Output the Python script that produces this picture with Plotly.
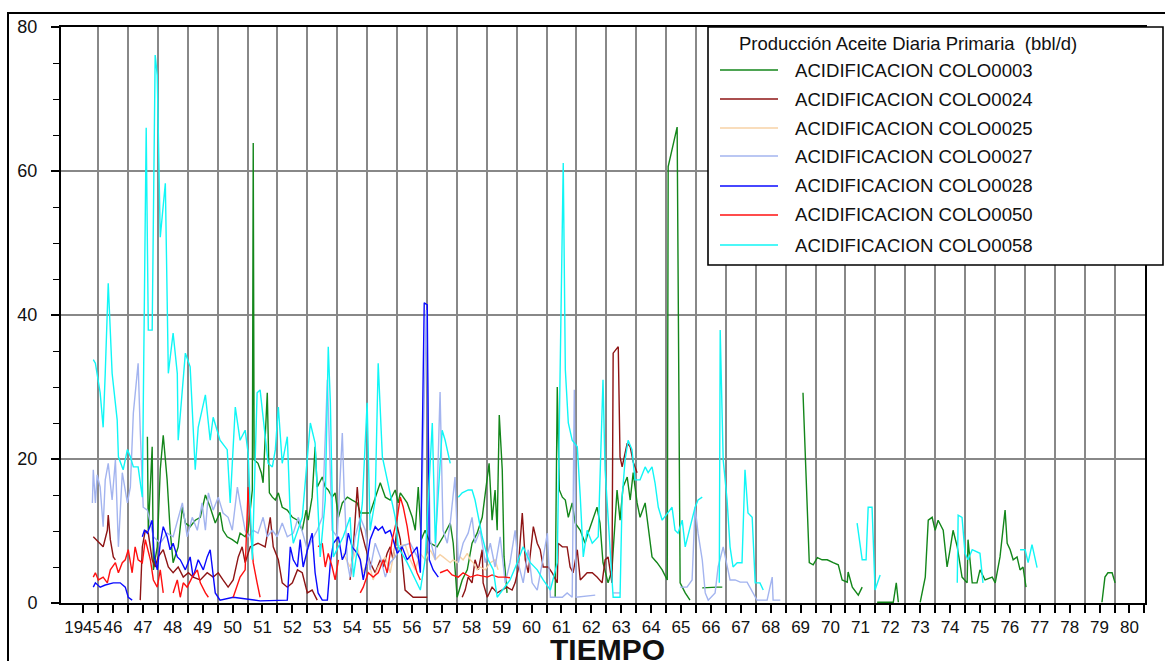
import plotly.graph_objects as go

# ---------------- data (decimal year, bbl/d) ; None = gap ----------------
years = list(range(1945, 1981))
year_labels = ["1945"] + [str(y)[2:] for y in years[1:]]
y_ticks = [0, 20, 40, 60, 80]

series_names = ["ACIDIFICACION COLO0003", "ACIDIFICACION COLO0024", "ACIDIFICACION COLO0025",
                "ACIDIFICACION COLO0027", "ACIDIFICACION COLO0028", "ACIDIFICACION COLO0050",
                "ACIDIFICACION COLO0058"]
series_colors = ["#13861a", "#8e1414", "#f7d2a6", "#a3b4ef", "#0a0aff", "#ff1010", "#10f6f6"]

colo0003 = [
    (1947.65, 23.1), (1947.68, 10.1), (1947.81, 21.7), (1947.85, 4.6), (1947.98, 7.8), (1948.08, 18.5),
    (1948.18, 23.3), (1948.31, 17.1), (1948.41, 10.1), (1948.51, 5.6), (1948.68, 7.8), (1948.82, 13.3),
    (1948.92, 11.1), (1949.08, 10.6), (1949.25, 11.5), (1949.42, 11.9), (1949.59, 15.0), (1949.75, 13.3),
    (1949.92, 11.1), (1950.08, 12.6), (1950.18, 10.1), (1950.32, 9.2), (1950.49, 8.8), (1950.66, 8.3),
    (1950.75, 9.7), (1950.92, 9.2), (1951.02, 10.1), (1951.16, 15.7), (1951.19, 63.9), (1951.22, 19.9),
    (1951.35, 19.4), (1951.46, 18.1), (1951.52, 16.7), (1951.66, 29.2), (1951.73, 15.3), (1951.83, 14.7),
    (1951.93, 14.3), (1952.03, 15.3), (1952.16, 13.3), (1952.33, 12.9), (1952.50, 11.9), (1952.67, 11.5),
    (1952.83, 10.1), (1952.96, 12.9), (1953.03, 11.5), (1953.16, 14.7), (1953.26, 21.7), (1953.33, 16.1),
    (1953.50, 17.5), (1953.60, 16.1), (1953.70, 15.7), (1953.83, 14.7), (1953.93, 15.3), (1954.04, 11.9),
    (1954.17, 13.9), (1954.34, 14.7), (1954.50, 14.3), (1954.67, 13.9), (1954.77, 12.5), (1955.10, 12.5),
    (1955.44, 16.7), (1955.61, 14.7), (1955.77, 14.3), (1955.94, 15.7), (1956.04, 13.9), (1956.11, 15.3),
    (1956.34, 13.9), (1956.51, 11.9), (1956.61, 10.1), (1956.71, 16.1), (1956.81, 8.8), (1956.94, 10.1),
    (1957.11, 8.3), (1957.34, 7.8), (1957.54, 9.2), (1957.78, 11.1), (1957.88, 8.3), (1958.01, 0.8),
    (1958.18, 3.2), (1958.35, 4.6), (1958.51, 8.3), (1958.68, 9.7), (1958.85, 11.9), (1959.02, 17.5),
    (1959.08, 19.4), (1959.18, 11.5), (1959.28, 15.7), (1959.35, 10.1), (1959.42, 26.1), (1959.52, 18.5),
    (1959.58, 6.4), (1959.68, 1.4), None,
    (1961.29, 0.8), (1961.36, 30.0), (1961.43, 15.7), (1961.53, 14.7), (1961.63, 14.3), (1961.73, 11.9),
    (1961.86, 13.9), (1961.96, 11.1), (1962.13, 10.1), (1962.29, 8.3), (1962.39, 9.7), (1962.56, 11.9),
    (1962.69, 13.3), (1962.79, 11.1), (1962.89, 5.6), (1963.06, 2.8), (1963.19, 4.6), (1963.36, 15.7),
    (1963.46, 11.5), (1963.56, 16.1), (1963.70, 17.5), (1963.80, 14.3), (1963.90, 18.1), (1964.03, 13.9),
    (1964.13, 11.9), (1964.30, 13.9), (1964.40, 10.6), (1964.53, 6.4), (1964.70, 5.6), (1964.87, 4.6),
    (1965.04, 3.2), (1965.07, 60.6), (1965.37, 66.1), (1965.47, 2.8), (1965.64, 1.4), (1965.80, 0.4), None,
    (1966.21, 2.1), (1966.48, 2.2), (1966.71, 2.2), (1966.88, 2.2), None,
    (1969.58, 29.2), (1969.65, 20.3), (1969.72, 13.9), (1969.79, 5.6), (1969.92, 5.3), (1970.06, 6.3),
    (1970.22, 6.0), (1970.39, 6.0), (1970.59, 5.6), (1970.76, 5.3), (1970.89, 3.2), (1971.06, 2.9),
    (1971.09, 4.3), (1971.23, 2.2), (1971.43, 1.1), (1971.56, 2.2), None,
    (1972.06, 0.1), (1972.60, 0.1), (1972.70, 2.8), (1972.77, 0.1), None,
    (1973.50, 0.1), (1973.67, 3.6), (1973.77, 11.5), (1973.90, 11.9), (1974.00, 10.1), (1974.10, 11.5),
    (1974.27, 10.1), (1974.40, 5.0), (1974.50, 7.4), (1974.60, 10.1), (1974.74, 7.8), (1974.90, 3.6),
    (1975.07, 2.8), (1975.10, 8.8), (1975.24, 2.8), (1975.40, 2.8), (1975.50, 4.6), (1975.67, 3.2),
    (1975.91, 3.6), (1976.01, 2.8), (1976.17, 6.4), (1976.27, 10.1), (1976.34, 12.9), (1976.41, 8.3),
    (1976.51, 7.4), (1976.61, 6.0), (1976.74, 6.4), (1976.84, 4.6), (1976.94, 5.0), (1977.04, 2.2), None,
    (1979.58, 0.1), (1979.68, 3.6), (1979.78, 4.2), (1979.92, 4.2), (1980.02, 2.8),
]

colo0024 = [
    (1945.84, 9.2), (1945.94, 8.8), (1946.07, 8.3), (1946.17, 7.8), (1946.31, 10.1), (1946.34, 12.2),
    (1946.41, 8.8), (1946.51, 6.4), (1946.58, 6.0), None,
    (1947.41, 0.4), (1947.48, 7.8), (1947.58, 10.1), (1947.68, 9.7), (1947.81, 6.0), (1947.91, 5.0),
    (1948.01, 6.4), (1948.18, 7.4), (1948.35, 5.0), (1948.51, 4.2), (1948.68, 5.0), (1948.85, 3.6),
    (1949.02, 4.2), (1949.18, 3.6), (1949.42, 3.2), (1949.65, 4.2), (1949.85, 3.6), (1950.02, 4.2),
    (1950.18, 3.2), (1950.35, 2.2), (1950.52, 3.2), (1950.69, 6.4), (1950.82, 7.8), (1950.92, 5.6),
    (1951.09, 7.8), (1951.35, 8.3), (1951.59, 7.8), (1951.76, 11.9), (1951.86, 7.8), (1952.03, 6.0),
    (1952.16, 2.8), (1952.33, 2.2), (1952.50, 2.8), (1952.67, 4.6), (1952.83, 4.2), (1953.00, 1.4),
    (1953.16, 1.8), (1953.33, 0.4), None,
    (1954.43, 3.2), (1954.54, 7.8), (1954.67, 16.1), (1954.77, 10.6), (1954.94, 7.8), (1955.10, 5.6),
    (1955.27, 4.2), (1955.44, 6.0), (1955.54, 5.0), (1955.67, 6.9), (1955.77, 7.8), (1955.87, 6.0),
    (1956.01, 10.6), (1956.11, 8.8), (1956.27, 1.8), (1956.54, 0.8), (1957.01, 0.8), None,
    (1958.18, 0.8), (1958.28, 1.8), (1958.38, 3.6), (1958.51, 2.8), (1958.61, 6.0), (1958.72, 4.6),
    (1958.85, 7.4), (1958.88, 2.8), (1959.02, 0.8), (1959.18, 2.2), (1959.35, 1.4), (1959.68, 2.2),
    (1959.85, 1.8), (1959.95, 2.8), (1960.05, 4.6), (1960.19, 12.5), (1960.29, 6.0), (1960.39, 4.2),
    (1960.56, 10.6), (1960.69, 8.3), (1960.79, 7.4), (1960.89, 5.0), (1961.06, 5.0), (1961.19, 4.2),
    (1961.36, 2.8), (1961.39, 8.3), (1961.53, 7.8), (1961.69, 7.8), (1961.79, 5.0), (1961.89, 4.2),
    (1962.03, 7.4), (1962.13, 3.2), (1962.36, 4.2), (1962.53, 4.2), (1962.69, 3.6), (1962.86, 2.8),
    (1962.96, 6.0), (1963.06, 6.4), (1963.19, 2.8), (1963.23, 34.7), (1963.40, 35.6), (1963.46, 20.3),
    (1963.53, 18.9), (1963.70, 22.2), (1963.80, 21.7), (1963.90, 19.6), (1964.03, 18.1),
]

colo0025 = [
    (1954.20, 6.9), (1954.43, 5.0), (1954.67, 7.8), (1954.87, 4.2), (1955.04, 6.0), (1955.20, 3.2),
    (1955.37, 5.0), (1955.61, 6.4), (1955.77, 4.2), (1955.94, 7.8), (1956.27, 8.1), (1956.44, 6.0),
    (1956.61, 4.6), (1956.78, 6.9), (1956.94, 6.0), (1957.11, 7.4), (1957.28, 6.0), (1957.44, 6.7),
    (1957.54, 6.4), (1957.68, 6.0), (1957.78, 5.6), (1957.88, 6.0), (1958.01, 5.6), (1958.11, 6.4),
    (1958.21, 6.0), (1958.35, 6.9), (1958.45, 6.0), (1958.55, 5.6), (1958.68, 4.6), (1958.78, 5.0),
    (1958.95, 4.6), (1959.12, 5.6), (1959.28, 6.0), (1959.38, 4.6),
]

colo0027 = [
    (1945.81, 13.9), (1945.84, 18.5), (1945.91, 13.9), (1945.97, 17.8), (1946.07, 16.1), (1946.17, 10.6),
    (1946.24, 17.1), (1946.34, 19.4), (1946.47, 14.3), (1946.58, 19.9), (1946.68, 7.8), (1946.81, 18.1),
    (1946.98, 13.9), (1947.08, 16.1), (1947.18, 26.4), (1947.31, 32.8), (1947.34, 33.3), (1947.41, 24.0),
    (1947.51, 13.3), (1947.65, 12.9), (1947.85, 9.2), (1948.08, 8.3), (1948.31, 9.7), (1948.51, 9.2),
    (1948.82, 13.9), (1948.98, 9.2), (1949.15, 11.9), (1949.32, 10.1), (1949.48, 13.9), (1949.59, 10.1),
    (1949.69, 15.3), (1949.85, 12.9), (1950.02, 14.7), (1950.18, 12.5), (1950.35, 11.9), (1950.49, 10.1),
    (1950.66, 16.1), (1950.75, 13.9), (1950.92, 10.1), (1951.02, 9.2), (1951.19, 10.1), (1951.35, 9.7),
    (1951.52, 11.9), (1951.66, 9.2), (1951.83, 10.1), (1951.99, 9.2), (1952.16, 11.1), (1952.33, 9.2),
    (1952.53, 9.7), (1952.70, 11.9), (1952.83, 10.1), (1953.00, 7.4), (1953.16, 8.8), (1953.33, 10.1),
    (1953.50, 11.9), (1953.67, 31.0), (1953.83, 10.1), (1954.00, 9.2), (1954.17, 23.6), (1954.23, 15.7),
    (1954.34, 5.6), (1954.43, 3.6), (1954.60, 9.2), (1954.77, 11.9), (1954.94, 10.1), (1955.10, 4.6),
    (1955.27, 8.3), (1955.44, 6.4), (1955.61, 3.6), (1955.77, 5.6), (1955.94, 6.4), (1956.11, 7.8),
    (1956.44, 8.3), (1956.78, 5.6), (1956.98, 40.7), (1957.11, 8.8), (1957.28, 6.0), (1957.44, 29.3),
    (1957.54, 10.1), (1957.68, 8.3), (1957.78, 11.1), (1957.94, 17.5), (1958.05, 5.6), (1958.21, 8.3),
    (1958.38, 9.7), (1958.51, 11.9), (1958.61, 8.3), (1958.78, 10.1), (1958.95, 5.6), (1959.12, 8.3),
    (1959.28, 5.0), (1959.45, 9.2), (1959.62, 2.8), (1959.78, 5.6), (1959.95, 10.1), (1960.05, 5.6),
    (1960.22, 2.8), (1960.39, 7.4), (1960.52, 2.8), (1960.69, 1.8), (1960.86, 5.6), (1961.03, 9.7),
    (1961.13, 0.8), (1961.53, 0.8), (1961.69, 1.4), (1961.86, 0.8), (1961.93, 29.6), (1961.99, 0.8),
    (1962.63, 1.1), None,
    (1963.23, 1.4), (1963.46, 1.4), None,
    (1965.47, 2.2), (1965.70, 2.2), (1965.87, 3.2), (1965.97, 13.3), (1966.07, 9.7), (1966.21, 6.0),
    (1966.31, 1.4), (1966.41, 0.4), (1966.64, 1.4), (1966.74, 5.0), (1966.91, 7.8), (1967.04, 5.0),
    (1967.14, 3.2), (1967.31, 3.2), (1967.48, 2.9), (1967.71, 2.9), (1967.81, 2.2), (1967.91, 1.4),
    (1968.04, 0.4), (1968.38, 0.4), (1968.55, 3.6), (1968.58, 0.4), (1968.82, 0.4),
]

colo0028 = [
    (1945.84, 2.2), (1945.91, 2.8), (1946.07, 2.2), (1946.24, 2.5), (1946.51, 2.8), (1946.74, 2.8),
    (1946.91, 2.2), (1947.01, 0.8), (1947.14, 0.4), None,
    (1947.48, 9.2), (1947.55, 10.1), (1947.65, 9.7), (1947.81, 11.5), (1947.88, 6.4), (1947.98, 4.6),
    (1948.08, 8.3), (1948.18, 10.6), (1948.31, 9.2), (1948.41, 7.4), (1948.51, 8.3), (1948.65, 6.4),
    (1948.75, 6.0), (1948.92, 4.6), (1949.08, 6.4), (1949.18, 3.6), (1949.35, 6.0), (1949.52, 4.6),
    (1949.65, 6.4), (1949.75, 7.4), (1949.92, 1.4), (1950.08, 0.4), (1950.52, 0.8), (1951.42, 0.3),
    (1952.33, 0.4), (1952.43, 7.8), (1952.53, 6.0), (1952.67, 5.0), (1952.76, 8.8), (1952.86, 5.0),
    (1953.03, 7.8), (1953.16, 9.7), (1953.26, 4.2), (1953.36, 1.4), (1953.50, 0.4), (1953.67, 0.4),
    (1953.77, 5.6), (1953.87, 8.3), (1954.04, 9.2), (1954.17, 6.0), (1954.27, 6.9), (1954.37, 9.7),
    (1954.50, 7.8), (1954.67, 6.9), (1954.77, 6.0), (1954.87, 3.2), (1955.00, 6.0), (1955.10, 8.8),
    (1955.27, 10.6), (1955.37, 10.1), (1955.51, 10.6), (1955.61, 9.7), (1955.77, 10.1), (1955.87, 8.8),
    (1956.01, 6.9), (1956.17, 7.8), (1956.34, 6.0), (1956.51, 6.9), (1956.67, 7.8), (1956.78, 4.2),
    (1956.84, 22.2), (1956.91, 41.7), (1957.01, 41.4), (1957.08, 6.0), (1957.21, 4.6), (1957.38, 3.6),
]

colo0050 = [
    (1945.84, 3.6), (1945.91, 4.2), (1946.01, 3.2), (1946.17, 3.6), (1946.31, 2.8), (1946.41, 4.6),
    (1946.58, 5.6), (1946.68, 4.2), (1946.81, 5.6), (1946.91, 6.0), (1947.01, 7.4), (1947.14, 4.2),
    (1947.24, 7.8), (1947.34, 6.0), (1947.48, 5.6), (1947.58, 8.8), (1947.75, 6.0), (1947.85, 3.2),
    (1947.98, 2.2), (1948.08, 4.6), (1948.18, 1.4), None,
    (1948.51, 1.4), (1948.65, 3.2), (1948.75, 0.8), (1948.85, 2.8), (1948.98, 2.2), (1949.15, 3.6),
    (1949.32, 4.6), (1949.42, 2.8), (1949.59, 1.4), (1949.69, 0.8), None,
    (1950.52, 0.8), (1950.75, 3.6), (1950.92, 4.6), (1951.02, 16.1), (1951.12, 9.2), (1951.19, 5.6),
    (1951.32, 2.8), (1951.42, 0.8), None,
    (1953.36, 7.8), (1953.50, 8.3), (1953.60, 5.0), (1953.70, 6.9), (1953.83, 5.0), (1953.93, 3.2),
    (1954.04, 6.0), None,
    (1954.77, 1.4), (1954.87, 2.2), (1955.04, 4.2), (1955.20, 3.6), (1955.37, 4.2), (1955.54, 6.0),
    (1955.67, 4.2), (1955.84, 8.8), (1956.01, 11.9), (1956.11, 14.7), (1956.21, 13.3), (1956.34, 10.6),
    (1956.44, 7.8), (1956.54, 6.0), (1956.67, 4.2), (1956.78, 3.2), None,
    (1957.44, 4.2), (1957.68, 4.6), (1957.84, 3.9), (1958.05, 3.6), (1958.21, 4.2), (1958.45, 3.6),
    (1958.68, 3.9), (1959.02, 3.6), (1959.18, 3.9), (1959.38, 3.6), (1959.62, 3.6), (1959.78, 3.5),
]

colo0058 = [
    (1945.84, 33.8), (1945.91, 33.3), (1946.07, 29.2), (1946.17, 24.4), (1946.24, 31.9), (1946.34, 44.4),
    (1946.47, 31.9), (1946.64, 25.4), (1946.68, 20.3), (1946.84, 18.5), (1946.98, 21.3), (1947.08, 20.3),
    (1947.18, 18.9), (1947.34, 18.9), (1947.48, 14.7), (1947.61, 66.0), (1947.68, 37.9), (1947.81, 37.9),
    (1947.91, 76.1), (1947.98, 73.3), (1948.08, 50.8), (1948.25, 58.3), (1948.35, 31.9), (1948.51, 37.5),
    (1948.65, 31.9), (1948.68, 22.6), (1948.92, 34.7), (1949.08, 32.8), (1949.25, 18.5), (1949.35, 24.4),
    (1949.59, 28.9), (1949.75, 22.6), (1949.85, 25.8), (1950.08, 22.6), (1950.32, 21.3), (1950.42, 13.9),
    (1950.59, 27.2), (1950.75, 22.6), (1950.92, 24.0), (1951.02, 20.8), (1951.16, 6.0), (1951.32, 29.2),
    (1951.42, 29.6), (1951.69, 19.4), (1951.83, 18.9), (1951.93, 21.3), (1952.03, 27.2), (1952.16, 19.4),
    (1952.33, 23.1), (1952.43, 11.9), (1952.53, 8.3), (1952.67, 10.1), (1952.83, 11.9), (1953.10, 25.0),
    (1953.26, 22.2), (1953.43, 6.4), (1953.60, 14.3), (1953.70, 35.6), (1953.77, 27.8), (1953.87, 6.4),
    (1954.04, 7.8), (1954.20, 9.2), (1954.43, 11.9), (1954.54, 3.6), (1954.67, 7.4), (1954.84, 13.9),
    (1955.00, 27.8), (1955.10, 10.1), (1955.27, 14.3), (1955.37, 33.3), (1955.51, 20.3), (1955.67, 17.1),
    (1955.94, 11.9), (1956.04, 7.8), (1956.34, 5.6), (1956.78, 1.8), (1956.94, 6.0), (1957.18, 25.0),
    (1957.28, 8.3), (1957.51, 24.0), (1957.61, 22.6), (1957.78, 19.4), None,
    (1958.05, 14.7), (1958.18, 15.3), (1958.38, 15.7), (1958.51, 15.7), (1958.61, 14.3), (1958.85, 9.2),
    (1959.05, 6.0), (1959.22, 4.6), (1959.35, 0.8), (1959.78, 3.2), (1960.02, 5.6), (1960.22, 7.8),
    (1960.46, 5.6), (1960.69, 4.6), (1960.89, 3.2), (1961.13, 1.8), (1961.36, 5.6), (1961.56, 61.1),
    (1961.63, 32.4), (1961.73, 25.0), (1961.86, 22.6), (1962.03, 21.7), (1962.13, 14.7), (1962.23, 6.4),
    (1962.36, 10.1), (1962.53, 8.3), (1962.73, 9.2), (1962.89, 31.0), (1962.96, 18.5), (1963.23, 0.8),
    (1963.46, 0.8), (1963.53, 14.7), (1963.63, 19.9), (1963.73, 22.6), (1963.86, 21.3), (1963.96, 17.1),
    (1964.13, 17.1), (1964.30, 18.9), (1964.40, 18.1), (1964.53, 18.9), (1964.63, 16.7), (1964.74, 13.3),
    (1964.87, 11.5), (1965.04, 12.5), (1965.20, 13.3), (1965.30, 10.1), (1965.40, 9.7), (1965.54, 11.5),
    (1965.64, 7.8), (1965.97, 13.3), (1966.07, 14.3), (1966.21, 14.7), None,
    (1966.78, 2.8), (1966.81, 37.9), (1966.91, 19.9), (1967.04, 14.3), (1967.14, 7.8), (1967.24, 5.0),
    (1967.38, 5.6), (1967.54, 5.6), (1967.64, 18.5), (1967.74, 12.5), (1967.88, 11.9), (1967.98, 2.8),
    (1968.14, 2.8), (1968.25, 1.8), None,
    (1971.39, 11.1), (1971.56, 6.0), (1971.69, 6.0), (1971.76, 13.3), (1971.89, 13.3), (1971.99, 1.8),
    (1972.16, 3.9), None,
    (1974.74, 2.8), (1974.77, 12.2), (1974.90, 11.9), (1975.00, 6.9), (1975.10, 6.0), (1975.24, 7.4),
    (1975.50, 6.9), (1975.60, 2.8), None,
    (1976.84, 7.4), (1977.01, 7.4), (1977.11, 5.6), (1977.24, 8.1), (1977.41, 4.9),
]

all_series = [colo0003, colo0024, colo0025, colo0027, colo0028, colo0050, colo0058]


def unzip(pts):
    xs, ys = [], []
    for p in pts:
        if p is None:
            xs.append(None)
            ys.append(None)
        else:
            xs.append(p[0])
            ys.append(p[1])
    return xs, ys


fig = go.Figure()
for name, color, pts in zip(series_names, series_colors, all_series):
    xs, ys = unzip(pts)
    fig.add_trace(go.Scatter(x=xs, y=ys, mode="lines", name=name,
                             line=dict(color=color, width=1.4), connectgaps=False,
                             showlegend=False))

FONT = "Liberation Sans, Arial, sans-serif"

# ---------------- layout geometry ----------------
L, R, T, B = 61, 20, 27, 58
W, H = 1165, 661
pw, ph = W - L - R, H - T - B


def px_x(p):
    return (p - L) / pw


def px_y(p):
    return (H - B - p) / ph


fig.update_layout(
    width=W, height=H,
    margin=dict(l=L, r=R, t=T, b=B, pad=0),
    paper_bgcolor="white", plot_bgcolor="white",
    font=dict(family=FONT, size=17, color="#111"),
    showlegend=False,
)

fig.update_xaxes(
    range=[1944.76, 1981.02],
    tickmode="array",
    tickvals=[y + 0.5 for y in years],
    ticktext=year_labels,
    tickangle=0,
    ticks="outside", ticklen=8, tickwidth=1.5, tickcolor="black",
    showgrid=False, zeroline=False,
    showline=True, linecolor="black", linewidth=2, mirror=True,
    tickfont=dict(family=FONT, size=17, color="#111"),
    minor=dict(tickmode="array", tickvals=years[1:] + [1981], ticks="outside", ticklen=8,
               tickwidth=1.5, tickcolor="black",
               showgrid=True, gridcolor="#888888", gridwidth=1.7),
)

fig.update_yaxes(
    range=[0, 80],
    tickmode="array", tickvals=y_ticks,
    ticks="outside", ticklen=8, tickwidth=1.5, tickcolor="black",
    showgrid=True, gridcolor="#888888", gridwidth=1.7,
    zeroline=False,
    showline=True, linecolor="black", linewidth=2, mirror=True,
    tickfont=dict(family=FONT, size=18, color="#111"),
    ticklabelstandoff=10,
    minor=dict(dtick=5, ticks="outside", ticklen=6, tickwidth=1.2, tickcolor="black", showgrid=False),
)

shapes = []
# outer frame
shapes.append(dict(type="rect", xref="paper", yref="paper",
                   x0=px_x(8), x1=px_x(1180), y0=px_y(690), y1=px_y(13),
                   line=dict(color="black", width=2), fillcolor="rgba(0,0,0,0)", layer="above"))
# legend box
shapes.append(dict(type="rect", xref="paper", yref="paper",
                   x0=px_x(708), x1=px_x(1163), y0=px_y(265), y1=px_y(27),
                   line=dict(color="black", width=1.6), fillcolor="white", layer="above"))

annotations = []
annotations.append(dict(text="Producción Aceite Diaria Primaria  (bbl/d)", xref="paper", yref="paper",
                        x=px_x(737), y=px_y(44), xanchor="left", yanchor="middle", showarrow=False,
                        font=dict(family=FONT, size=18.5, color="#111")))
row_y = [70, 99, 128, 156, 186, 215, 245]
for name, color, ry in zip(series_names, series_colors, row_y):
    shapes.append(dict(type="line", xref="paper", yref="paper",
                       x0=px_x(720), x1=px_x(778), y0=px_y(ry), y1=px_y(ry),
                       line=dict(color=color, width=1.6), layer="above"))
    annotations.append(dict(text=name, xref="paper", yref="paper",
                            x=px_x(793), y=px_y(ry), xanchor="left", yanchor="middle", showarrow=False,
                            font=dict(family=FONT, size=18.6, color="#111")))

annotations.append(dict(text="<b>TIEMPO</b>", xref="paper", yref="paper",
                        x=px_x(607), y=px_y(649), xanchor="center", yanchor="middle", showarrow=False,
                        font=dict(family=FONT, size=30, color="#111")))

fig.update_layout(shapes=shapes, annotations=annotations)

fig.write_html("out.html")
